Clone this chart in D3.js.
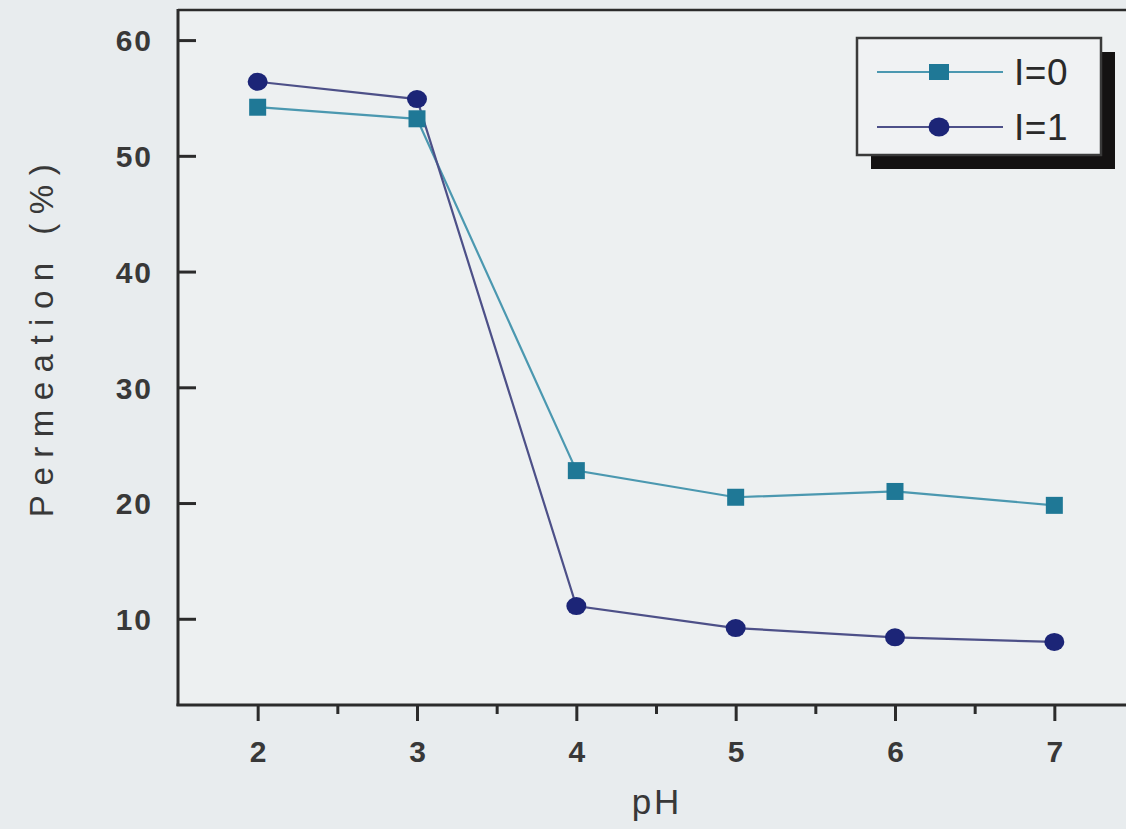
<!DOCTYPE html>
<html>
<head>
<meta charset="utf-8">
<script src="https://cdn.jsdelivr.net/npm/d3@7"></script>
<style>
  html, body { margin: 0; padding: 0; background: #e8ecee; }
  svg { display: block; }
</style>
</head>
<body>
<svg id="chart" width="1126" height="829"></svg>
<script>
// ---- data ----
const pH = [2, 3, 4, 5, 6, 7];
const permeationI0 = [54.2, 53.2, 22.8, 20.5, 21.0, 19.8];
const permeationI1 = [56.4, 54.9, 11.1, 9.2, 8.4, 8.0];
const seriesNames = ["I=0", "I=1"];
const xTicks = [2, 3, 4, 5, 6, 7];
const xMinorTicks = [2.5, 3.5, 4.5, 5.5, 6.5];
const yTicks = [10, 20, 30, 40, 50, 60];

(function () {
// ---- layout ----
const svg = d3.select("#chart");
const W = 1126, H = 829;
const pLeft = 178, pTop = 10, pBottom = 705, pRight = 1134;

const x = d3.scaleLinear().domain([1.5, 7.5]).range([pLeft, pRight]);
const y = d3.scaleLinear().domain([2.55, 62.6]).range([pBottom, pTop]);

const fontFam = "'Liberation Sans', Arial, sans-serif";
const axisColor = "#2b2b2b";
const textColor = "#383838";

// background
svg.append("rect").attr("width", W).attr("height", H).attr("fill", "#e8ecee");
svg.append("rect").attr("x", pLeft).attr("y", pTop).attr("width", pRight - pLeft).attr("height", pBottom - pTop)
  .attr("fill", "#edf0f1");

// frame top
svg.append("line").attr("x1", pLeft).attr("x2", pRight).attr("y1", pTop).attr("y2", pTop)
  .attr("stroke", axisColor).attr("stroke-width", 2.5);

// y axis
const yAxis = d3.axisLeft(y).tickValues(yTicks).tickSize(-18).tickPadding(25).tickFormat(d3.format("d"));
const gy = svg.append("g").attr("transform", `translate(${pLeft},0)`).call(yAxis);
gy.select(".domain").remove();
gy.selectAll(".tick line").attr("stroke", axisColor).attr("stroke-width", 3);
gy.selectAll(".tick text").attr("font-family", fontFam).attr("font-size", 30).attr("font-weight", "bold")
  .attr("fill", textColor).attr("letter-spacing", 2).attr("dy", "0.36em");
svg.append("line").attr("x1", pLeft).attr("x2", pLeft).attr("y1", pTop - 1).attr("y2", pBottom + 1)
  .attr("stroke", axisColor).attr("stroke-width", 3);

// x axis
const xAxis = d3.axisBottom(x).tickValues(xTicks).tickSize(16).tickPadding(20).tickFormat(d3.format("d"));
const gx = svg.append("g").attr("transform", `translate(0,${pBottom})`).call(xAxis);
gx.select(".domain").remove();
gx.selectAll(".tick line").attr("stroke", axisColor).attr("stroke-width", 3);
gx.selectAll(".tick text").attr("font-family", fontFam).attr("font-size", 30).attr("font-weight", "bold")
  .attr("fill", textColor);
const xMinor = d3.axisBottom(x).tickValues(xMinorTicks).tickSize(9).tickFormat("");
const gxm = svg.append("g").attr("transform", `translate(0,${pBottom})`).call(xMinor);
gxm.select(".domain").remove();
gxm.selectAll(".tick line").attr("stroke", axisColor).attr("stroke-width", 3);
svg.append("line").attr("x1", pLeft - 1.5).attr("x2", pRight).attr("y1", pBottom).attr("y2", pBottom)
  .attr("stroke", axisColor).attr("stroke-width", 3);

// axis titles
svg.append("text").attr("x", 657).attr("y", 814).attr("text-anchor", "middle")
  .attr("font-family", fontFam).attr("font-size", 35).attr("fill", textColor).attr("letter-spacing", 3)
  .text("pH");
svg.append("text").attr("transform", "translate(53,336) rotate(-90)").attr("text-anchor", "middle")
  .attr("font-family", fontFam).attr("font-size", 33).attr("fill", textColor).attr("letter-spacing", 9.5)
  .text("Permeation (%)");

// series
const colI0 = "#1f7896", lineI0 = "#4b98b0";
const colI1 = "#1c2577", lineI1 = "#4d5088";
const data0 = pH.map((p, i) => [p, permeationI0[i]]);
const data1 = pH.map((p, i) => [p, permeationI1[i]]);
const line = d3.line().x(d => x(d[0])).y(d => y(d[1]));

svg.append("path").datum(data0).attr("d", line).attr("fill", "none").attr("stroke", lineI0).attr("stroke-width", 2.2);
svg.append("path").datum(data1).attr("d", line).attr("fill", "none").attr("stroke", lineI1).attr("stroke-width", 2.2);

const sq = 17;
svg.append("g").selectAll("rect").data(data0).join("rect")
  .attr("x", d => x(d[0]) - sq / 2).attr("y", d => y(d[1]) - sq / 2)
  .attr("width", sq).attr("height", sq).attr("fill", colI0);
svg.append("g").selectAll("ellipse").data(data1).join("ellipse")
  .attr("cx", d => x(d[0])).attr("cy", d => y(d[1])).attr("rx", 10).attr("ry", 9)
  .attr("fill", colI1);

// legend
const lg = svg.append("g");
const lx = 857, ly = 38, lw = 244, lh = 117, sh = 14;
lg.append("rect").attr("x", lx + sh).attr("y", ly + sh).attr("width", lw).attr("height", lh).attr("fill", "#141212");
lg.append("rect").attr("x", lx).attr("y", ly).attr("width", lw).attr("height", lh)
  .attr("fill", "#f0f2f3").attr("stroke", "#3a3a3a").attr("stroke-width", 2.5);
const rows = [
  { name: seriesNames[0], line: lineI0, col: colI0, shape: "square", y: 72 },
  { name: seriesNames[1], line: lineI1, col: colI1, shape: "circle", y: 127 }
];
rows.forEach(r => {
  lg.append("line").attr("x1", 877).attr("x2", 1003).attr("y1", r.y).attr("y2", r.y)
    .attr("stroke", r.line).attr("stroke-width", 2);
  if (r.shape === "square") {
    lg.append("rect").attr("x", 939 - 10).attr("y", r.y - 8).attr("width", 20).attr("height", 16).attr("fill", r.col);
  } else {
    lg.append("ellipse").attr("cx", 939).attr("cy", r.y).attr("rx", 10.5).attr("ry", 9.5).attr("fill", r.col);
  }
  lg.append("text").attr("x", 1014).attr("y", r.y).attr("dy", "0.36em")
    .attr("font-family", fontFam)
    .attr("font-size", 37).attr("fill", "#2a2a2a").attr("letter-spacing", 0.5)
    .text(r.name);
});
})();
</script>
</body>
</html>
